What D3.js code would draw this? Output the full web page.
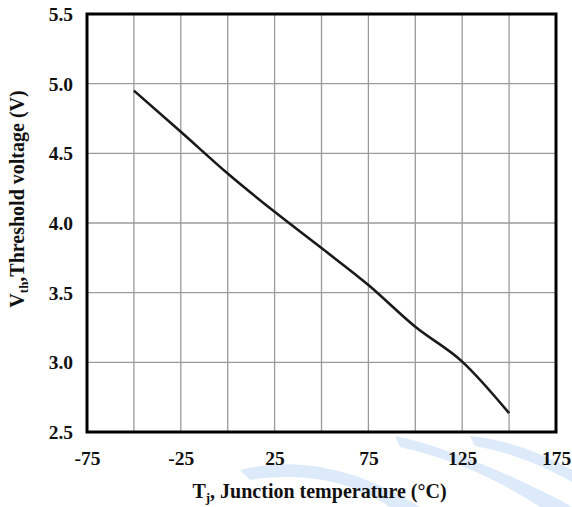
<!DOCTYPE html>
<html><head><meta charset="utf-8">
<script src="https://cdn.jsdelivr.net/npm/d3@7"></script>
<style>
html,body{margin:0;padding:0;background:#fff;}
svg{display:block;}
text{font-family:"Liberation Serif","Times New Roman",serif;font-weight:bold;fill:#111;}
</style></head>
<body>
<svg id="c" width="572" height="507"></svg>
<script>
// Data
const temperatures = [-50, -25, 0, 25, 50, 75, 100, 125, 150];
const thresholdVoltage = [4.95, 4.655, 4.355, 4.08, 3.82, 3.555, 3.255, 3.005, 2.635];
const xTickValues = [-75, -25, 25, 75, 125, 175];
const xGridValues = [-50, -25, 0, 25, 50, 75, 100, 125, 150];
const yTickValues = [2.5, 3.0, 3.5, 4.0, 4.5, 5.0, 5.5];

const svg = d3.select("#c");
const L = 87, R = 556, T = 14, B = 432;
const x = d3.scaleLinear().domain([-75, 175]).range([L, R]);
const y = d3.scaleLinear().domain([2.5, 5.5]).range([B, T]);

// watermark decoration
const wm = svg.append("g").attr("fill", "#d6e7f8").attr("opacity", 0.85);
wm.append("path").attr("d", "M395,436 C440,445 500,470 560,500 L572,507 L540,507 C500,480 450,458 400,447 Z");
wm.append("path").attr("d", "M240,470 C300,455 360,470 420,507 L390,507 C350,480 300,472 250,480 Z");
wm.append("path").attr("d", "M470,436 C510,440 545,455 572,470 L572,482 C545,467 510,452 475,446 Z");

// grid
const grid = svg.append("g").attr("stroke", "#9a9a9a").attr("stroke-width", 1.3);
grid.selectAll("line.v").data(xGridValues).join("line")
  .attr("x1", d => x(d)).attr("x2", d => x(d)).attr("y1", T).attr("y2", B);
grid.selectAll("line.h").data(yTickValues.slice(1, -1)).join("line")
  .attr("y1", d => y(d)).attr("y2", d => y(d)).attr("x1", L).attr("x2", R);

// axes (labels)
const xAxis = d3.axisBottom(x).tickValues(xTickValues).tickSize(0).tickPadding(0)
  .tickFormat(d => String(d));
const gx = svg.append("g").attr("transform", `translate(0,${B})`).call(xAxis);
gx.select(".domain").remove();
gx.selectAll("text").attr("dy", null).attr("y", 33).attr("font-size", 19.5)
  .style("font-family", "Liberation Serif").style("font-weight", "bold").attr("fill", "#111");

const yAxis = d3.axisLeft(y).tickValues(yTickValues).tickSize(0).tickPadding(14)
  .tickFormat(d3.format(".1f"));
const gy = svg.append("g").attr("transform", `translate(${L},0)`).call(yAxis);
gy.select(".domain").remove();
gy.selectAll("text").attr("font-size", 19.5).attr("dy", "0.33em")
  .style("font-family", "Liberation Serif").style("font-weight", "bold").attr("fill", "#111");

// curve
const line = d3.line().x((d, i) => x(temperatures[i])).y(d => y(d)).curve(d3.curveMonotoneX);
svg.append("path").datum(thresholdVoltage).attr("d", line)
  .attr("fill", "none").attr("stroke", "#1a1a1a").attr("stroke-width", 2.6);

// frame
svg.append("rect").attr("x", L).attr("y", T).attr("width", R - L).attr("height", B - T)
  .attr("fill", "none").attr("stroke", "#000").attr("stroke-width", 3);

// titles
const xt = svg.append("text").attr("x", (L + R) / 2 - 2).attr("y", 498)
  .attr("text-anchor", "middle").attr("font-size", 20);
xt.append("tspan").text("T");
xt.append("tspan").text("j").attr("font-size", 13).attr("dy", 4);
xt.append("tspan").text(", Junction temperature (°C)").attr("dy", -4);

const yt = svg.append("text").attr("transform", "translate(24,199) rotate(-90)")
  .attr("text-anchor", "middle").attr("font-size", 20);
yt.append("tspan").text("V");
yt.append("tspan").text("th").attr("font-size", 13).attr("dy", 4);
yt.append("tspan").text(",Threshold voltage (V)").attr("dy", -4);
</script>
</body></html>
